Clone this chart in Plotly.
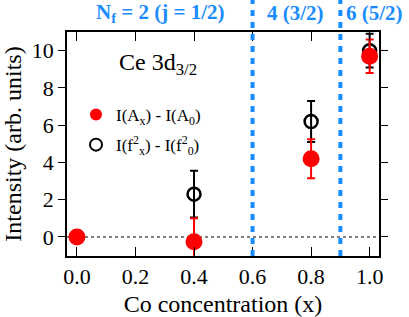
import plotly.graph_objects as go

x_vals = [0.0, 0.4, 0.8, 1.0]
red_y = [0.0, -0.25, 4.2, 9.7]
red_err = [0.0, 1.25, 1.05, 0.9]
blk_x = [0.4, 0.8, 1.0]
blk_y = [2.3, 6.2, 10.0]
blk_err = [1.25, 1.1, 0.9]
vlines = [0.6, 0.9]
x_ticks = [0.0, 0.2, 0.4, 0.6, 0.8, 1.0]
x_ticklabels = ["0.0", "0.2", "0.4", "0.6", "0.8", "1.0"]
y_ticks = [0, 2, 4, 6, 8, 10]

FONT = "Liberation Serif"
BLUE = "#1a8cff"
RED = "#ff0000"

L, R, T, B = 67, 30, 32, 61
W, H = 409, 317
pw, ph = W - L - R, H - T - B
def px(xp): return (xp - L) / pw
def py(yp): return (H - B - yp) / ph

fig = go.Figure()

fig.add_trace(go.Scatter(
    x=blk_x, y=blk_y, mode="markers",
    name="I(f<sup>2</sup><sub>x</sub>) - I(f<sup>2</sup><sub>0</sub>)",
    marker=dict(symbol="circle-open", size=13, color="black", line=dict(width=2.5, color="black")),
    error_y=dict(type="data", array=blk_err, visible=True, color="black", thickness=2, width=4),
    legendrank=2, legendgroup="b",
))
fig.add_trace(go.Scatter(
    x=x_vals, y=red_y, mode="markers",
    name="I(A<sub>x</sub>) - I(A<sub>0</sub>)",
    marker=dict(symbol="circle", size=17, color=RED),
    error_y=dict(type="data", array=red_err, visible=True, color=RED, thickness=2, width=4),
    legendrank=1, legendgroup="a",
))

shapes = [dict(type="line", xref="paper", yref="y", x0=0, x1=1, y0=0, y1=0,
               line=dict(color="black", width=1, dash="dot"), layer="below")]
for v in vlines:
    shapes.append(dict(type="line", xref="x", yref="paper", x0=v, x1=v, y0=0, y1=1.145,
                       line=dict(color=BLUE, width=4, dash="6px,6px")))
fig.update_layout(shapes=shapes)

annots = [
    dict(x=160, y=13, text="<b>N<sub>f</sub> = 2 (j = 1/2)</b>"),
    dict(x=295, y=13, text="<b>4 (3/2)</b>"),
    dict(x=374, y=13, text="<b>6 (5/2)</b>"),
]
for a in annots:
    fig.add_annotation(x=px(a["x"]), y=py(a["y"]), xref="paper", yref="paper",
                       text=a["text"], showarrow=False, xanchor="center", yanchor="middle",
                       font=dict(family=FONT, size=21, color=BLUE))
fig.add_annotation(x=px(117), y=py(64), xref="paper", yref="paper",
                   text="Ce 3d<sub>3/2</sub>", showarrow=False, xanchor="left", yanchor="middle",
                   font=dict(family=FONT, size=24, color="black"))

fig.update_layout(
    width=W, height=H,
    margin=dict(l=L, r=R, t=T, b=B, autoexpand=False),
    paper_bgcolor="white", plot_bgcolor="white",
    font=dict(family=FONT, size=20, color="black"),
    showlegend=True,
    legend=dict(x=px(76), y=py(97), xanchor="left", yanchor="top",
                font=dict(family=FONT, size=17, color="black"),
                bgcolor="rgba(0,0,0,0)", itemsizing="constant",
                traceorder="grouped", tracegroupgap=5),
    xaxis=dict(range=[-0.034, 1.032], tickvals=x_ticks, ticktext=x_ticklabels,
               ticks="inside", ticklen=9, tickwidth=1, tickcolor="black",
               showline=True, linecolor="black", linewidth=1.5, mirror="allticks",
               showgrid=False, zeroline=False, automargin=False,
               title=dict(text="Co concentration (x)", font=dict(family=FONT, size=24), standoff=7),
               tickfont=dict(family=FONT, size=22)),
    yaxis=dict(range=[-1.02, 11.0], tickvals=y_ticks,
               ticks="outside", ticklen=7, tickwidth=1, tickcolor="black",
               showline=True, linecolor="black", linewidth=1.5, mirror="allticks",
               showgrid=False, zeroline=False, automargin=False,
               title=dict(text="Intensity (arb. units)", font=dict(family=FONT, size=24), standoff=4),
               tickfont=dict(family=FONT, size=22)),
)

fig.write_html("out.html", config={"displayModeBar": False},
               post_script="document.body.style.margin='0';document.body.style.overflow='hidden';")
